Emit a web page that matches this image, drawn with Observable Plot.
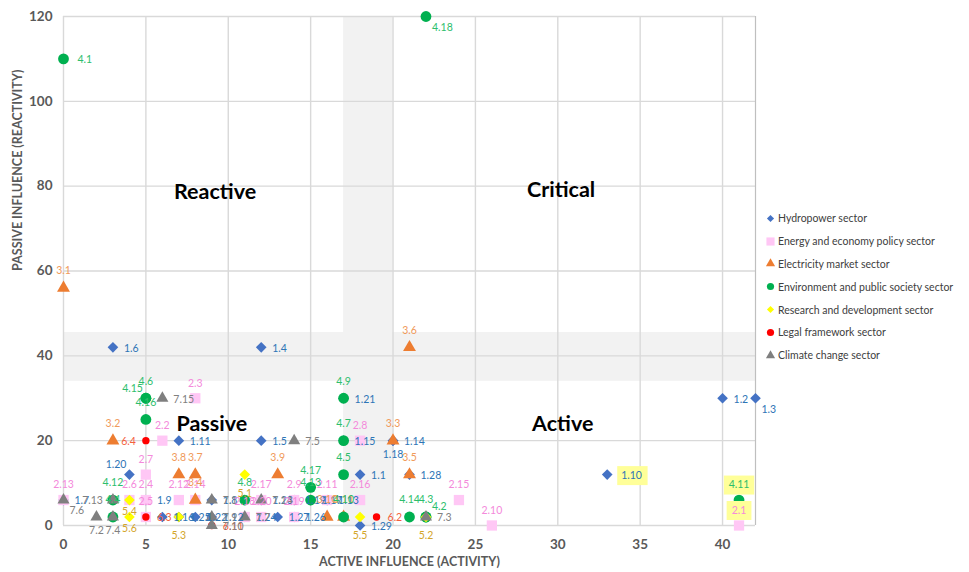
<!DOCTYPE html>
<html><head><meta charset="utf-8">
<script src="https://cdn.jsdelivr.net/npm/d3@7"></script>
<script src="https://cdn.jsdelivr.net/npm/@observablehq/plot@0.6"></script>
<style>
body{margin:0;background:#fff;font-family:Lato,"Open Sans",sans-serif;}
#wrap{position:relative;width:969px;height:572px;}
#legend{position:absolute;left:765px;top:207px;font-size:10.5px;color:#404040;}
.li{height:22.8px;display:flex;align-items:center;white-space:nowrap;}
.li svg{margin-right:2px;}
</style></head><body><div id="wrap"><div id="legend"></div></div>
<script>
// ---- axes / annotations ----
const xDomain = [0, 42];
const yDomain = [0, 120];
const xTicks = [0, 5, 10, 15, 20, 25, 30, 35, 40];
const yTicks = [0, 20, 40, 60, 80, 100, 120];
const activityBand = [17, 20];
const reactivityBand = [34, 45.5];
const quadrantNames = ["Reactive", "Critical", "Passive", "Active"];
const quadrantX = [9.2, 30.2, 9.0, 30.3];
const quadrantY = [78.5, 79, 24, 24];
const xTitle = "ACTIVE INFLUENCE (ACTIVITY)";
const yTitle = "PASSIVE INFLUENCE (REACTIVITY)";

const sectorNames = ["Hydropower sector", "Energy and economy policy sector", "Electricity market sector",
  "Environment and public society sector", "Research and development sector", "Legal framework sector", "Climate change sector"];

// ---- series ----
const hydroIds = ["1.1","1.2","1.3","1.4","1.5","1.6","1.7","1.8","1.9","1.10","1.11","1.12","1.13","1.14","1.15","1.16","1.17","1.18","1.19","1.20","1.21","1.22","1.23","1.24","1.25","1.26","1.27","1.28","1.29"];
const hydroX   = [18, 40, 42, 12, 12, 3, 0, 9, 5, 33, 7, 9, 16, 20, 17, 6, 15, 20, 14, 4, 17, 8, 12, 11, 7, 14, 13, 21, 18];
const hydroY   = [12, 30, 30, 42, 20, 42, 6, 6, 6, 12, 20, 2, 6, 20, 20, 2, 6, 20, 6, 12, 30, 2, 6, 2, 2, 2, 2, 12, 0];

const energyIds = ["2.1","2.2","2.3","2.4","2.5","2.6","2.7","2.8","2.9","2.10","2.11","2.12","2.13","2.14","2.15","2.16","2.17","2.18","2.19","2.20"];
const energyX   = [41, 6, 8, 5, 5, 4, 5, 18, 14, 26, 16, 7, 0, 8, 24, 18, 12, 11, 14, 12];
const energyY   = [0, 20, 30, 6, 2, 6, 12, 20, 6, 0, 6, 6, 6, 6, 6, 6, 6, 2, 2, 2];

const marketIds = ["3.1","3.2","3.3","3.4","3.5","3.6","3.7","3.8","3.9","3.10","3.11"];
const marketX   = [0, 3, 20, 8, 21, 21, 8, 7, 13, 16, 17];
const marketY   = [56, 20, 20, 6, 12, 42, 12, 12, 12, 2, 2];

const envIds = ["4.1","4.2","4.3","4.4","4.5","4.6","4.7","4.8","4.9","4.10","4.11","4.12","4.13","4.14","4.15","4.16","4.17","4.18"];
const envX   = [0, 22, 22, 3, 17, 5, 17, 11, 17, 17, 41, 3, 15, 21, 5, 5, 15, 22];
const envY   = [110, 2, 2, 2, 12, 30, 20, 6, 30, 2, 6, 6, 6, 2, 30, 25, 9, 120];

const researchIds = ["5.1","5.2","5.3","5.4","5.5","5.6"];
const researchX   = [11, 22, 7, 4, 18, 4];
const researchY   = [12, 2, 2, 6, 2, 2];

const legalIds = ["6.2","6.3","6.4","6.11"];
const legalX   = [19, 5, 5, 9];
const legalY   = [2, 2, 20, 0];

const climateIds = ["7.1","7.2","7.3","7.4","7.5","7.6","7.7","7.9","7.10","7.13","7.14","7.15"];
const climateX   = [9, 2, 22, 3, 14, 0, 11, 9, 9, 3, 12, 6];
const climateY   = [6, 2, 2, 2, 20, 6, 2, 2, 0, 6, 6, 30];

const highlightedIds = ["1.10", "4.11", "2.1"];

// ---- styles ----
const sectorStyle = [
  {symbol:"diamond2", fill:"#4472C4", r:4.8, label:"#2E75B6", pos:"right"},
  {symbol:"square",   fill:"#FFC7F5", r:5.8, label:"#F48ADB", pos:"above"},
  {symbol:"triangle", fill:"#ED7D31", r:4.8, label:"#F09A5B", pos:"aboveT"},
  {symbol:"circle",   fill:"#00B050", r:5.4, label:"#2DBE6C", pos:"aboveT"},
  {symbol:"diamond2", fill:"#FFFF00", r:4.8, label:"#D4A62A", pos:"belowfar"},
  {symbol:"circle",   fill:"#FF0000", r:3.7, label:"#F4603C", pos:"right"},
  {symbol:"triangle", fill:"#7F7F7F", r:4.5, label:"#808080", pos:"right"}
];
const labelPosOverride = {"1.3":"belowright","1.18":"below","4.18":"belowright","4.1":"farright","4.15":"aboveleft",
  "6.4":"left","7.6":"belowright","7.2":"below","7.4":"below","7.13":"left","4.2":"aboveright","1.10":"farright",
  "1.20":"aboveleft","5.4":"belowclose","5.6":"belowclose","2.1":"above","4.11":"above"};
const posOffsets = {
  right:{dx:11,dy:1,anchor:"start"}, farright:{dx:14,dy:1,anchor:"start"}, left:{dx:-10,dy:1,anchor:"end"},
  above:{dx:0,dy:-15,anchor:"middle"}, aboveT:{dx:0,dy:-17,anchor:"middle"},
  below:{dx:0,dy:14,anchor:"middle"}, belowfar:{dx:0,dy:19,anchor:"middle"}, belowclose:{dx:0,dy:12,anchor:"middle"},
  belowright:{dx:6,dy:11,anchor:"start"}, aboveleft:{dx:-3,dy:-10,anchor:"end"}, aboveright:{dx:6,dy:-10,anchor:"start"}
};
const labelFont = 10.5;
const charW = 5.6;

const seriesIds = [hydroIds, energyIds, marketIds, envIds, researchIds, legalIds, climateIds];
const seriesX = [hydroX, energyX, marketX, envX, researchX, legalX, climateX];
const seriesY = [hydroY, energyY, marketY, envY, researchY, legalY, climateY];

const series = sectorNames.map((name, s) => seriesIds[s].map((id, i) => {
  const pos = labelPosOverride[id] || sectorStyle[s].pos;
  return {sector: name, s, id, x: seriesX[s][i], y: seriesY[s][i], pos};
}));
const allPoints = series.flat();

const dotMarks = series.map((rows, s) => Plot.dot(rows, {
  x: "x", y: "y", symbol: () => sectorStyle[s].symbol, fill: sectorStyle[s].fill, r: sectorStyle[s].r, stroke: "none"
}));

// yellow highlight boxes behind selected labels
const boxMarks = allPoints.filter(d => highlightedIds.includes(d.id)).map(d => {
  const o = posOffsets[d.pos];
  const w = d.id.length * charW + 8, h = 19;
  const cx = o.anchor === "start" ? o.dx + w / 2 - 4 : o.anchor === "end" ? o.dx - w / 2 + 4 : o.dx;
  const rectSymbol = {draw(ctx) { ctx.rect(-w / 2, -h / 2, w, h); }};
  return Plot.dot([d], {x: "x", y: "y", dx: cx, dy: o.dy, symbol: rectSymbol, fill: "#FFFF99", stroke: "none", r: 5});
});

const labelMarks = [];
for (const key of Object.keys(posOffsets)) {
  const o = posOffsets[key];
  const rows = allPoints.filter(d => d.pos === key);
  if (!rows.length) continue;
  labelMarks.push(Plot.text(rows, {x:"x", y:"y", text:"id", dx:o.dx, dy:o.dy, textAnchor:o.anchor,
    fontSize:labelFont, fill: d => sectorStyle[d.s].label}));
}

const chart = Plot.plot({
  width: 969, height: 572,
  marginLeft: 63, marginRight: 214, marginTop: 16, marginBottom: 47,
  x: {domain: xDomain, axis: null},
  y: {domain: yDomain, axis: null},
  style: {fontFamily: "Lato, 'Open Sans', sans-serif", background: "white", overflow: "visible"},
  marks: [
    Plot.rect([activityBand], {x1: d => d[0], x2: d => d[1], y1: yDomain[0], y2: yDomain[1], fill: "#F2F2F2"}),
    Plot.rect([reactivityBand], {x1: xDomain[0], x2: xDomain[1], y1: d => d[0], y2: d => d[1], fill: "#F2F2F2"}),
    Plot.ruleX(xTicks, {x: d => d, y1: yDomain[0], y2: yDomain[1], stroke: "#D9D9D9", strokeWidth: 1.4}),
    Plot.ruleY(yTicks, {y: d => d, x1: xDomain[0], x2: xDomain[1], stroke: "#D9D9D9", strokeWidth: 1.4}),
    Plot.ruleX([xDomain[1]], {y1: yDomain[0], y2: yDomain[1], stroke: "#BFBFBF", strokeWidth: 1.2}),
    Plot.text(xTicks, {x: d => d, y: yDomain[0], dy: 19, text: d => String(d), fontSize: 13.5, fontWeight: "bold", fill: "#595959"}),
    Plot.text(yTicks, {x: xDomain[0], y: d => d, dx: -11, textAnchor: "end", text: d => String(d), fontSize: 13.5, fontWeight: "bold", fill: "#595959"}),
    Plot.text([xTitle], {frameAnchor: "bottom", dy: 40, text: d => d, fontSize: 12.5, fontWeight: "bold", fill: "#595959"}),
    Plot.text([yTitle], {frameAnchor: "left", dx: -46, rotate: -90, text: d => d, fontSize: 12.5, fontWeight: "bold", fill: "#595959"}),
    Plot.text(quadrantNames, {x: (d, i) => quadrantX[i], y: (d, i) => quadrantY[i], text: d => d, fontSize: 21.5, fontWeight: "bold", fill: "#000"}),
    ...dotMarks,
    ...boxMarks,
    ...labelMarks
  ]
});
document.getElementById("wrap").prepend(chart);

// ---- legend ----
const legend = document.getElementById("legend");
const legendSize = [3.2, 4.6, 3.4, 3.6, 3.2, 3.6, 3.4];
sectorNames.forEach((name, s) => {
  const st = sectorStyle[s];
  const sym = {circle: d3.symbolCircle, square: d3.symbolSquare, triangle: d3.symbolTriangle, diamond2: d3.symbolDiamond2}[st.symbol];
  const path = d3.symbol(sym, Math.PI * legendSize[s] * legendSize[s])();
  const div = document.createElement("div");
  div.className = "li";
  div.innerHTML = `<svg width="11" height="11" viewBox="-5.5 -5.5 11 11"><path d="${path}" fill="${st.fill}"/></svg><span>${name}</span>`;
  legend.appendChild(div);
});
</script>
</body></html>
